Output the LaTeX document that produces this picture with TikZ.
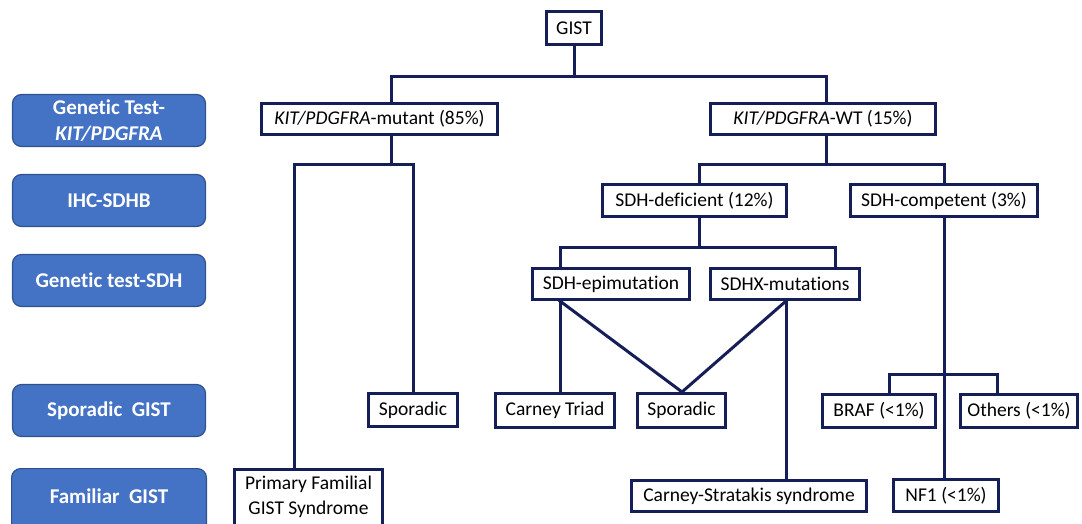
\documentclass[tikz,border=0pt]{standalone}
\usepackage{fontspec}
\setmainfont{Carlito}[Ligatures=NoCommon]
\definecolor{navy}{RGB}{22,30,88}
\definecolor{lblue}{RGB}{68,114,196}
\definecolor{lbord}{RGB}{47,82,143}
\tikzset{
  tbox/.style={draw=navy, line width=3.1pt, fill=white, inner sep=0pt, align=center, text=black,
    font=\fontsize{19.5}{24}\selectfont},
  lbox/.style={draw=lbord, line width=1.2pt, fill=lblue, rounded corners=9pt, inner sep=0pt, align=center,
    text=white, font=\bfseries\fontsize{21}{26}\selectfont},
  conn/.style={draw=navy, line width=3pt, line cap=rect, line join=miter}
}
\newcommand{\tb}[7]{\node[#1, minimum width={(#5-#3-3)*1pt}, minimum height={(#6-#4-3)*1pt}]
  (#2) at ({(#3+#5)/2},{(#4+#6)/2}) {#7};}
\begin{document}
\begin{tikzpicture}[x=1pt,y=-1pt]
\useasboundingbox (0,0) rectangle (1082,523);
\clip (0,0) rectangle (1082,523);
% left labels
\tb{lbox}{lgt}{11}{93}{207}{148}{Genetic Test-\\\textit{KIT/PDGFRA}}
\tb{lbox}{lihc}{11}{173}{207}{228}{IHC-SDHB}
\tb{lbox}{lgts}{11}{253}{207}{308}{Genetic test-SDH}
\tb{lbox}{lspg}{11}{383}{207}{438}{Sporadic~ GIST}
\node[lbox, minimum width={(196-1.2)*1pt}, minimum height=70pt, anchor=north] (lfam) at (109,468) {};
\node[text=white, font=\bfseries\fontsize{21}{26}\selectfont] (lfamt) at (109,496) {Familiar~ GIST};
% tree boxes
\tb{tbox}{gist}{545}{10}{603}{46}{GIST}
\tb{tbox}{mut}{260}{102}{499}{136}{\textit{KIT/PDGFRA}-mutant (85\%)}
\tb{tbox}{wt}{709}{102}{937}{136}{\textit{KIT/PDGFRA}-WT (15\%)}
\tb{tbox}{spor1}{367}{392}{459}{428}{Sporadic}
\tb{tbox}{pfam}{233}{468}{384}{545}{}
\node[font=\fontsize{19.5}{24.5}\selectfont, align=center] (pfamt) at (308.5,497) {Primary Familial\\GIST Syndrome};
\tb{tbox}{sdhdef}{601}{183}{788}{218}{SDH-deficient (12\%)}
\tb{tbox}{sdhcomp}{849}{183}{1039}{218}{SDH-competent (3\%)}
\tb{tbox}{epi}{531}{267}{691}{301}{SDH-epimutation}
\tb{tbox}{sdhx}{709}{267}{861}{301}{SDHX-mutations}
\tb{tbox}{ctriad}{494}{392}{616}{429}{Carney Triad}
\tb{tbox}{spor2}{636}{392}{727}{429}{Sporadic}
\tb{tbox}{cstrat}{630}{479}{868}{513}{Carney-Stratakis syndrome}
\tb{tbox}{braf}{821}{393}{937}{429}{BRAF (<1\%)}
\tb{tbox}{others}{959}{393}{1079}{429}{Others (<1\%)}
\tb{tbox}{nf1}{892}{478}{1000}{513}{NF1 (<1\%)}
% connectors
\draw[conn] (gist.south) -- (gist.south |- 0,76);
\draw[conn] (mut.north -| 391,0) -- (391,76) -- (826,76) -- (wt.north -| 826,0);
\draw[conn] (mut.south -| 391,0) -- (391,164);
\draw[conn] (pfam.north -| 294,0) -- (294,164) -- (413,164) -- (spor1.north -| 413,0);
\draw[conn] (wt.south -| 826,0) -- (826,164);
\draw[conn] (sdhdef.north -| 699,0) -- (699,164) -- (944,164) -- (sdhcomp.north -| 944,0);
\draw[conn] (sdhdef.south -| 699,0) -- (699,247);
\draw[conn] (epi.north -| 560,0) -- (560,247) -- (835,247) -- (sdhx.north -| 835,0);
\draw[conn] (epi.south -| 560,0) -- (ctriad.north -| 560,0);
\draw[conn, line join=round] (epi.south -| 560,0) -- (spor2.north -| 682,0) -- (sdhx.south -| 786,0);
\draw[conn] (sdhx.south -| 786,0) -- (cstrat.north -| 786,0);
\draw[conn] (sdhcomp.south -| 944,0) -- (nf1.north -| 944,0);
\draw[conn] (braf.north -| 889,0) -- (889,374) -- (997,374) -- (others.north -| 997,0);
\end{tikzpicture}
\end{document}
